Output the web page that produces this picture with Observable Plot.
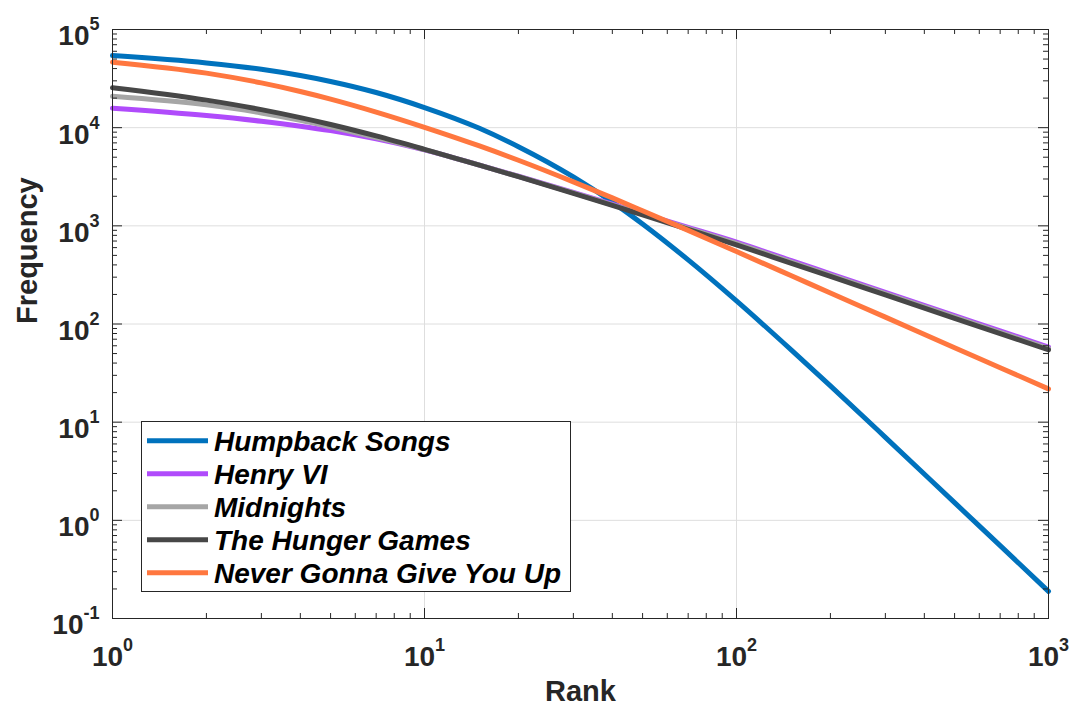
<!DOCTYPE html>
<html>
<head>
<meta charset="utf-8">
<script src="https://cdn.jsdelivr.net/npm/d3@7"></script>
<script src="https://cdn.jsdelivr.net/npm/@observablehq/plot@0.6"></script>
<style>
  html, body { margin: 0; padding: 0; background: #ffffff; }
  #chart { width: 1072px; height: 706px; }
</style>
</head>
<body>
<div id="chart"></div>
<script>
// ---------- data ----------
const ranks = [1, 2, 3, 4, 5, 7, 10, 15, 20, 30, 40, 50, 70, 100, 150, 200, 300, 500, 700, 1000];

const humpback    = [54330, 45660, 39310, 33950, 29560, 22810, 16030, 9850, 6400, 3148, 1746, 1045, 450, 172, 54.2, 23.4, 7.01, 1.514, 0.552, 0.189];
const henryVI     = [15810, 13300, 11630, 10360, 9335, 7680, 5940, 4158, 3201, 2186, 1659, 1336, 964, 682, 442, 325, 210.6, 121.9, 85.1, 58.1];
const midnights   = [20890, 17060, 14130, 11890, 10190, 7943, 5984, 4150, 3183, 2165, 1638, 1315, 942, 661, 428, 315, 204, 118.1, 82.4, 56.3];
const hungerGames = [25530, 19080, 15270, 12660, 10780, 8240, 6020, 4145, 3164, 2143, 1617, 1294, 921, 640, 414.8, 305, 197.6, 114.4, 79.8, 54.5];
const neverGonna  = [46450, 35940, 28580, 23370, 19550, 14420, 10090, 6515, 4655, 2804, 1924, 1423, 898, 547, 310, 207, 117.5, 57.4, 35.9, 21.8];

const seriesNames  = ["Humpback Songs", "Henry VI", "Midnights", "The Hunger Games", "Never Gonna Give You Up"];
const seriesValues = [humpback, henryVI, midnights, hungerGames, neverGonna];
const seriesColors = ["#0072BD", "#B04BFB", "#A6A6A6", "#474747", "#FF773F"];

const xMajor = [1, 10, 100, 1000];
const yMajor = [0.1, 1, 10, 100, 1000, 10000, 100000];

// ---------- table for the library ----------
const table = [];
seriesNames.forEach((name, i) => {
  ranks.forEach((r, j) => table.push({series: name, rank: r, freq: seriesValues[i][j]}));
});

function minorTicks(majors) {
  const out = [];
  for (let k = 0; k < majors.length - 1; k++) {
    for (let m = 2; m <= 9; m++) out.push(majors[k] * m);
  }
  return out;
}
const xMinor = minorTicks(xMajor);
const yMinor = minorTicks(yMajor);

const W = 1072, H = 706;
const mL = 112, mR = 24, mT = 29, mB = 88;
const innerH = H - mT - mB, innerW = W - mL - mR;
const FONT = "'Liberation Sans', Arial, Helvetica, sans-serif";
const AX = "#262626";

const expFmt = d => "10^" + Math.round(Math.log10(d));

const plot = Plot.plot({
  width: W, height: H,
  marginLeft: mL, marginRight: mR, marginTop: mT, marginBottom: mB,
  style: {fontFamily: FONT, background: "#ffffff", color: AX, overflow: "visible"},
  x: {type: "log", domain: [1, 1000], label: null},
  y: {type: "log", domain: [0.1, 100000], label: null},
  color: {domain: seriesNames, range: seriesColors},
  marks: [
    Plot.gridX(xMajor, {stroke: "#dedede", strokeOpacity: 1, strokeWidth: 1}),
    Plot.gridY(yMajor, {stroke: "#dedede", strokeOpacity: 1, strokeWidth: 1}),
    Plot.line(table, {x: "rank", y: "freq", z: "series", stroke: "series", strokeWidth: 5, curve: "monotone-x", strokeLinejoin: "round"}),
    // inside ticks (bottom / top)
    Plot.tickX(xMinor, {x: d => d, stroke: AX, insetTop: innerH - 5}),
    Plot.tickX(xMinor, {x: d => d, stroke: AX, insetBottom: innerH - 5}),
    Plot.tickX(xMajor, {x: d => d, stroke: AX, insetTop: innerH - 10}),
    Plot.tickX(xMajor, {x: d => d, stroke: AX, insetBottom: innerH - 10}),
    // inside ticks (left / right)
    Plot.tickY(yMinor, {y: d => d, stroke: AX, insetRight: innerW - 5}),
    Plot.tickY(yMinor, {y: d => d, stroke: AX, insetLeft: innerW - 5}),
    Plot.tickY(yMajor, {y: d => d, stroke: AX, insetRight: innerW - 10}),
    Plot.tickY(yMajor, {y: d => d, stroke: AX, insetLeft: innerW - 10}),
    Plot.frame({stroke: AX, strokeWidth: 1}),
    Plot.axisX(xMajor, {anchor: "bottom", tickSize: 0, tickPadding: 28, tickFormat: expFmt, fontSize: 28, fontWeight: "bold", fill: AX}),
    Plot.axisY(yMajor, {anchor: "left", tickSize: 0, tickPadding: 13, tickFormat: expFmt, fontSize: 28, fontWeight: "bold", fill: AX}),
    Plot.text(["Rank"], {frameAnchor: "bottom", dy: 82, lineAnchor: "bottom", fontSize: 29, fontWeight: "bold", fill: AX}),
    Plot.text(["Frequency"], {frameAnchor: "left", dx: -76, rotate: -90, lineAnchor: "bottom", fontSize: 29, fontWeight: "bold", fill: AX})
  ]
});

document.getElementById("chart").appendChild(plot);

// superscript exponents on tick labels
const svg = d3.select(plot);
function supLabels(sel, isY) {
  sel.each(function() {
    const t = d3.select(this);
    const s = t.text();
    const m = s.match(/^10\^(-?\d+)$/);
    if (!m) return;
    t.text("");
    t.append("tspan").text("10");
    t.append("tspan").attr("dy", -15).attr("font-size", 18).text(m[1]);
    if (isY) t.attr("dy", 7);
  });
}
supLabels(svg.selectAll('g[aria-label="x-axis tick label"] text'), false);
supLabels(svg.selectAll('g[aria-label="y-axis tick label"] text'), true);

// legend
const lg = svg.append("g").attr("font-family", FONT).attr("text-anchor", "start");
const lx = 141.5, ly = 421.5, lw = 429, lh = 170;
lg.append("rect").attr("x", lx).attr("y", ly).attr("width", lw).attr("height", lh)
  .attr("fill", "#ffffff").attr("stroke", AX).attr("stroke-width", 1);
seriesNames.forEach((name, i) => {
  const yy = 440.7 + i * 33;
  lg.append("line").attr("x1", 147).attr("x2", 208).attr("y1", yy).attr("y2", yy)
    .attr("stroke", seriesColors[i]).attr("stroke-width", 5);
  lg.append("text").attr("x", 214).attr("y", yy + 10).attr("text-anchor", "start")
    .attr("font-size", 28).attr("font-weight", "bold").attr("font-style", "italic")
    .attr("fill", "#000000").text(name);
});
</script>
</body>
</html>
